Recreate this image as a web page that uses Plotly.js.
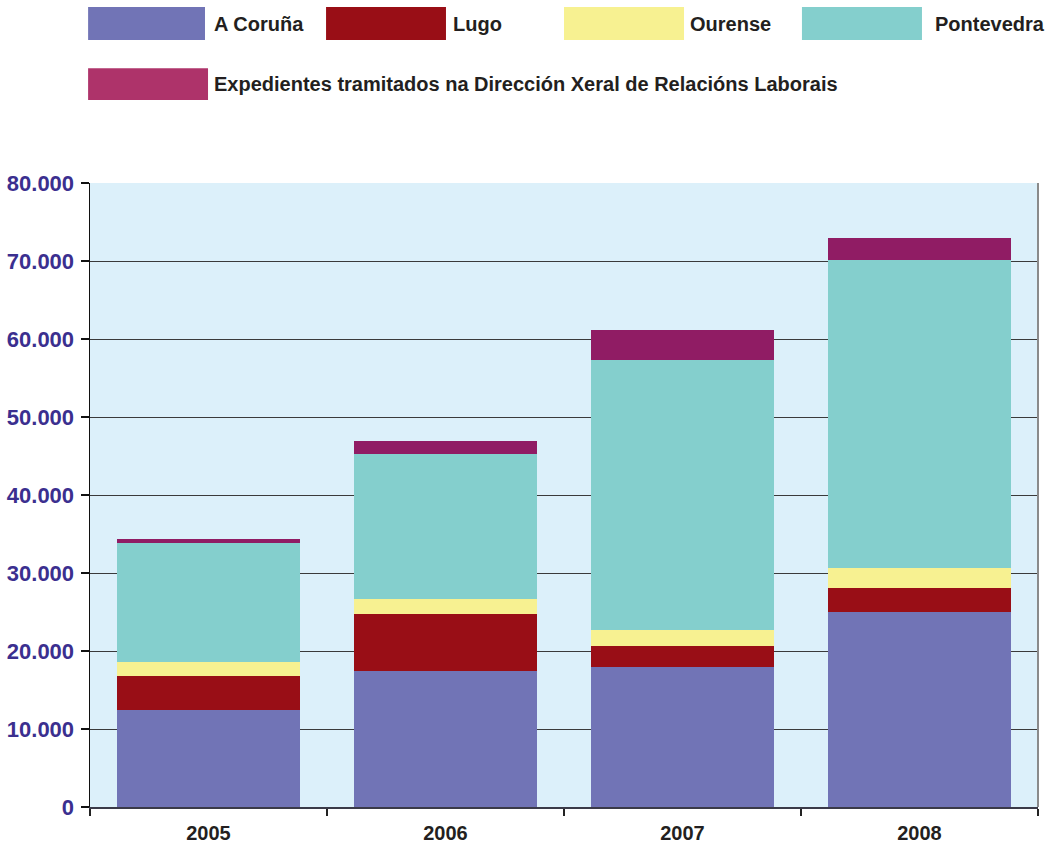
<!DOCTYPE html>
<html>
<head>
<meta charset="utf-8">
<script src="https://cdn.plot.ly/plotly-3.0.1.min.js"></script>
<style>html,body{margin:0;padding:0;background:#fff;}#chart{width:1051px;height:846px;}</style>
</head>
<body>
<div id="chart"></div>
<script>
var years = ['2005', '2006', '2007', '2008'];
var seriesNames = ['A Coruña', 'Lugo', 'Ourense', 'Pontevedra', 'Expedientes tramitados na Dirección Xeral de Relacións Laborais'];
var aCoruna = [12500, 17500, 18000, 25000];
var lugo = [4300, 7300, 2700, 3100];
var ourense = [1800, 1900, 2000, 2500];
var pontevedra = [15200, 18600, 34600, 39500];
var expedientes = [600, 1600, 3800, 2900];
var yTicks = [0, 10000, 20000, 30000, 40000, 50000, 60000, 70000, 80000];

var barColors = ['#7174B6', '#990E16', '#F7F191', '#84CFCD', '#901C64'];
var legendColors = ['#7174B6', '#990E16', '#F7F191', '#84CFCD', '#AE336A'];
var values = [aCoruna, lugo, ourense, pontevedra, expedientes];

var traces = values.map(function (v, i) {
  return {
    type: 'bar', x: years, y: v, name: seriesNames[i],
    marker: {color: barColors[i], line: {width: 0}},
    hoverinfo: 'x+y+name'
  };
});

var FONT = 'Liberation Sans, Arial, Helvetica, sans-serif';

// custom legend: swatch boxes + labels (paper coordinates)
var legendItems = [
  {x0: -0.002, x1: 0.1213, y0: 1.229, y1: 1.282, tx: 0.1287, ty: 1.2555},
  {x0: 0.249, x1: 0.3755, y0: 1.229, y1: 1.282, tx: 0.3805, ty: 1.2555},
  {x0: 0.500, x1: 0.6266, y0: 1.229, y1: 1.282, tx: 0.6308, ty: 1.2555},
  {x0: 0.751, x1: 0.8776, y0: 1.229, y1: 1.282, tx: 0.8893, ty: 1.2555},
  {x0: -0.002, x1: 0.1245, y0: 1.133, y1: 1.184, tx: 0.1287, ty: 1.1585}
];
var shapes = [];
var annotations = [];
legendItems.forEach(function (it, i) {
  shapes.push({type: 'rect', xref: 'paper', yref: 'paper', x0: it.x0, x1: it.x1, y0: it.y0, y1: it.y1,
    fillcolor: legendColors[i], line: {width: 0}, layer: 'above'});
  annotations.push({xref: 'paper', yref: 'paper', x: it.tx, y: it.ty, xanchor: 'left', yanchor: 'middle',
    showarrow: false, text: seriesNames[i],
    font: {family: FONT, size: 20, color: '#231F20', weight: 'bold'}});
});
// right border of plot area
shapes.push({type: 'line', xref: 'paper', yref: 'paper', x0: 1, x1: 1, y0: 0, y1: 1,
  line: {color: '#8a8a8a', width: 2}, layer: 'above'});

var layout = {
  width: 1051, height: 846,
  margin: {l: 90, r: 13, t: 183, b: 39, pad: 0},
  paper_bgcolor: '#ffffff',
  plot_bgcolor: '#DCF0FA',
  barmode: 'stack',
  bargap: 0.225,
  showlegend: false,
  separators: ',.',
  xaxis: {
    type: 'category',
    showgrid: false,
    showline: true, linecolor: '#3a3a48', linewidth: 2,
    ticks: 'outside', tickson: 'boundaries', ticklen: 7, tickcolor: '#222', tickwidth: 1.5,
    tickfont: {family: FONT, size: 20, color: '#231F20', weight: 'bold'},
    ticklabelstandoff: 7,
    zeroline: false
  },
  yaxis: {
    range: [0, 80000],
    tickvals: yTicks,
    tickformat: ',d',
    showgrid: true, gridcolor: '#3a3a3a', gridwidth: 1,
    showline: true, linecolor: '#111', linewidth: 1.5,
    ticks: 'outside', ticklen: 8, tickcolor: '#111', tickwidth: 1.5,
    tickfont: {family: FONT, size: 22, color: '#3B2F8F', weight: 'bold'},
    ticklabelstandoff: 2,
    zeroline: false
  },
  shapes: shapes,
  annotations: annotations
};

Plotly.newPlot('chart', traces, layout, {displayModeBar: false, staticPlot: true});
</script>
</body>
</html>
